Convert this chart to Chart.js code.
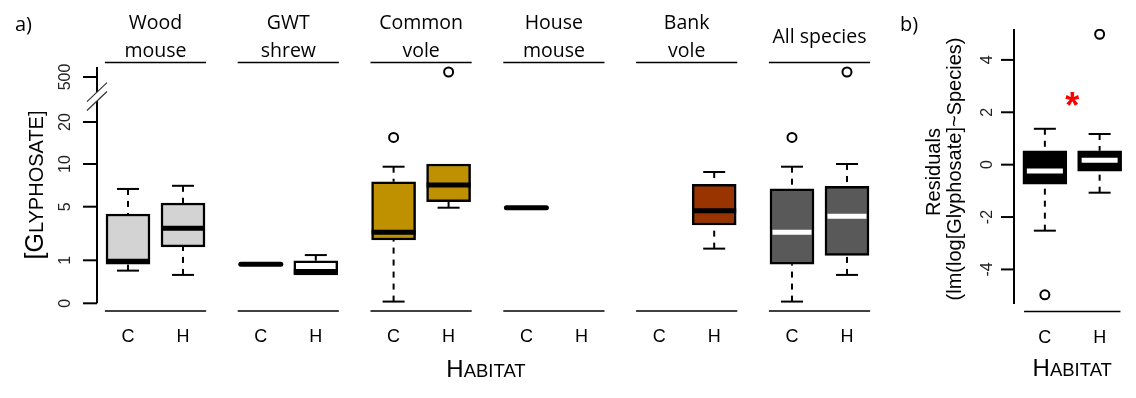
<!DOCTYPE html>
<html><head><meta charset="utf-8">
<script src="https://cdn.jsdelivr.net/npm/chart.js@4.4.1/dist/chart.umd.min.js"></script>
<style>
html,body{margin:0;padding:0;background:#fff;}
#wrap{position:relative;width:1136px;height:398px;overflow:hidden;background:#fff;}
canvas{position:absolute;top:0;}
#ca{left:0;} #cb{left:890px;}
</style></head><body>
<div id="wrap"><canvas id="ca" width="900" height="398"></canvas><canvas id="cb" width="246" height="398"></canvas></div>
<script>
// ---------------- data: panel a ----------------
const species = ['Wood\nmouse','GWT\nshrew','Common\nvole','House\nmouse','Bank\nvole','All species'];
const habitats = ['C','H'];
// per species: [C, H]; null = no data
const lowWhisker    = [[0.76,0.66],[0.91,0.66],[0.04,4.85],[4.85,null],[null,1.42],[0.04,0.66]];
const lowerQuartile = [[0.91,1.50],[0.91,0.66],[1.84,5.42],[4.85,null],[null,2.89],[0.91,1.16]];
const medianValue   = [[0.98,2.61],[0.91,0.74],[2.32,7.11],[4.85,null],[null,4.43],[2.32,3.75]];
const upperQuartile = [[4.02,5.31],[0.91,0.99],[7.50,10.0],[4.85,null],[null,7.20],[6.67,6.96]];
const highWhisker   = [[6.67,7.02],[0.91,1.17],[9.57,10.0],[4.85,null],[null,8.78],[9.57,10.0]];
const outlierValues = [[[],[]],[[],[]],[[15.5],[550]],[[],[]],[[],[]],[[15.5],[550]]];
const yTicksA = [0,1,5,10,20,500];
const axisBreakA = [90,170];
const boxFill = ['#d3d3d3','#ffffff','#bf9000','#ffffff','#993300','#595959'];
const medianColor = ['#000000','#000000','#000000','#000000','#000000','#ffffff'];

// ---------------- data: panel b ----------------
const residHabitats = ['C','H'];
const residLow = [-2.52,-1.07];
const residQ1 = [-0.74,-0.25];
const residMedian = [-0.24,0.17];
const residQ3 = [0.53,0.53];
const residHigh = [1.37,1.17];
const residOutliers = [[-4.97],[4.98]];
const yTicksB = [-4,-2,0,2,4];
const significance = {label:'*', between:[0,1], y:2.5};

// ---------------- broken / stretched axis transform (panel a) ----------------
const anchorV = [0,1,5,10,20,500,600];
const anchorU = [0,1,2.2465,3.2395,4.2163,5.2628,5.4953];
function U(v){
  if (v <= 1) return v;
  for (let i = 1; i < anchorV.length - 1; i++) {
    if (v <= anchorV[i+1] || i === anchorV.length - 2) {
      let t;
      if (i >= 5) t = (v - anchorV[i]) / (anchorV[i+1] - anchorV[i]);
      else t = Math.log(v / anchorV[i]) / Math.log(anchorV[i+1] / anchorV[i]);
      return anchorU[i] + t * (anchorU[i+1] - anchorU[i]);
    }
  }
}

const FACET_STEP = 2.4145;
const xPos = (i, j) => i * FACET_STEP + j;
const BOX_PX = 44;

const SANS = '"Liberation Sans", Arial, sans-serif';
const TITLE = '"Open Sans", "Noto Sans", sans-serif';

function rotText(ctx, parts, cx, cy) {
  ctx.save();
  ctx.translate(cx, cy);
  ctx.rotate(-Math.PI / 2);
  let total = 0;
  parts.forEach(p => { ctx.font = p[1]; total += ctx.measureText(p[0]).width; });
  let pos = -total / 2;
  ctx.textAlign = 'left'; ctx.textBaseline = 'alphabetic';
  parts.forEach(p => { ctx.font = p[1]; ctx.fillText(p[0], pos, 0); pos += ctx.measureText(p[0]).width; });
  ctx.restore();
}
function mixedText(ctx, parts, cx, baseY) {
  let total = 0;
  parts.forEach(p => { ctx.font = p[1]; total += ctx.measureText(p[0]).width; });
  let pos = cx - total / 2;
  ctx.textAlign = 'left'; ctx.textBaseline = 'alphabetic';
  parts.forEach(p => { ctx.font = p[1]; ctx.fillText(p[0], pos, baseY); pos += ctx.measureText(p[0]).width; });
}
function drawWhiskers(ctx, px, y, w, q, tf) {
  if (w == null || w === q) return;
  const pw = y.getPixelForValue(tf(w)), pq = y.getPixelForValue(tf(q));
  ctx.setLineDash([6, 6]);
  ctx.beginPath(); ctx.moveTo(px, pw); ctx.lineTo(px, pq); ctx.stroke();
  ctx.setLineDash([]);
  ctx.beginPath(); ctx.moveTo(px - BOX_PX / 4, pw); ctx.lineTo(px + BOX_PX / 4, pw); ctx.stroke();
}

// ---------------- panel a ----------------
const boxDataA = [], boxColA = [], outDataA = [];
species.forEach((s, i) => habitats.forEach((h, j) => {
  if (lowerQuartile[i][j] == null) return;
  boxDataA.push({x: xPos(i, j), y: [U(lowerQuartile[i][j]), U(upperQuartile[i][j])]});
  boxColA.push(boxFill[i]);
  outlierValues[i][j].forEach(v => outDataA.push({x: xPos(i, j), y: U(v)}));
}));

const panelA = {
  id: 'panelA',
  beforeDatasetsDraw(chart) {
    const {ctx, scales: {x, y}} = chart;
    ctx.save(); ctx.strokeStyle = '#000'; ctx.lineWidth = 2;
    species.forEach((s, i) => habitats.forEach((h, j) => {
      if (lowerQuartile[i][j] == null) return;
      const px = x.getPixelForValue(xPos(i, j));
      drawWhiskers(ctx, px, y, lowWhisker[i][j], lowerQuartile[i][j], U);
      drawWhiskers(ctx, px, y, highWhisker[i][j], upperQuartile[i][j], U);
    }));
    ctx.restore();
  },
  afterDatasetsDraw(chart) {
    const {ctx, scales: {x, y}} = chart;
    ctx.save();
    species.forEach((s, i) => habitats.forEach((h, j) => {
      if (medianValue[i][j] == null) return;
      const px = x.getPixelForValue(xPos(i, j));
      const py = y.getPixelForValue(U(medianValue[i][j]));
      const collapsed = lowerQuartile[i][j] === upperQuartile[i][j];
      ctx.strokeStyle = medianColor[i]; ctx.lineWidth = 5;
      ctx.lineCap = collapsed ? 'round' : 'butt';
      const half = collapsed ? BOX_PX / 2 - 2 : (medianColor[i] === '#ffffff' ? BOX_PX / 2 - 2.5 : BOX_PX / 2);
      ctx.beginPath(); ctx.moveTo(px - half, py); ctx.lineTo(px + half, py); ctx.stroke();
    }));
    ctx.restore();
  },
  afterDraw(chart) {
    const {ctx, chartArea: ca, scales: {x, y}} = chart;
    ctx.save();
    ctx.fillStyle = '#000'; ctx.strokeStyle = '#000';
    ctx.font = '20px ' + TITLE; ctx.textAlign = 'left'; ctx.textBaseline = 'alphabetic';
    ctx.fillText('a)', 15, 31);
    species.forEach((s, i) => {
      const cx = x.getPixelForValue(xPos(i, 0.5));
      const lines = s.split('\n');
      ctx.font = '19.5px ' + TITLE; ctx.textAlign = 'center';
      if (lines.length === 2) { ctx.fillText(lines[0], cx, 28.5); ctx.fillText(lines[1], cx, 56.5); }
      else ctx.fillText(lines[0], cx, 42.5);
      const l = x.getPixelForValue(xPos(i, 0.5) - 0.92), r = x.getPixelForValue(xPos(i, 0.5) + 0.92);
      ctx.lineWidth = 1.3;
      ctx.beginPath(); ctx.moveTo(l, ca.top + 0.5); ctx.lineTo(r, ca.top + 0.5); ctx.stroke();
      ctx.beginPath(); ctx.moveTo(l, ca.bottom); ctx.lineTo(r, ca.bottom); ctx.stroke();
      ctx.font = '18px ' + SANS;
      habitats.forEach((h, j) => ctx.fillText(h, x.getPixelForValue(xPos(i, j)), 342));
    });
    mixedText(ctx, [['H', '24px ' + SANS], ['ABITAT', '18.5px ' + SANS]], 486, 377);
    const ax = ca.left;
    const yTop = y.getPixelForValue(anchorU[anchorU.length - 1]);
    const yBot = y.getPixelForValue(U(0));
    const bHi = y.getPixelForValue(U(axisBreakA[1]));
    const bLo = y.getPixelForValue(U(axisBreakA[0]));
    ctx.lineWidth = 2; ctx.lineCap = 'butt';
    ctx.beginPath(); ctx.moveTo(ax, yTop); ctx.lineTo(ax, bHi); ctx.stroke();
    ctx.beginPath(); ctx.moveTo(ax, bLo); ctx.lineTo(ax, yBot); ctx.stroke();
    ctx.lineWidth = 1.2; ctx.strokeStyle = '#333';
    [bHi, bLo].forEach(py => { ctx.beginPath(); ctx.moveTo(ax - 10, py + 9.5); ctx.lineTo(ax + 10, py - 9.5); ctx.stroke(); });
    ctx.strokeStyle = '#000'; ctx.lineWidth = 2;
    yTicksA.forEach(t => {
      const py = y.getPixelForValue(U(t));
      ctx.beginPath(); ctx.moveTo(ax - 14, py); ctx.lineTo(ax, py); ctx.stroke();
      ctx.fillStyle = '#222';
      rotText(ctx, [[String(t), '16px ' + SANS]], 70, py);
    });
    ctx.fillStyle = '#000';
    rotText(ctx, [['[G', '25px ' + SANS], ['LYPHOSATE]', '20px ' + SANS]], 43, 185);
    ctx.restore();
  }
};

new Chart(document.getElementById('ca'), {
  type: 'bar',
  data: {
    datasets: [
      {type: 'bar', data: boxDataA, backgroundColor: boxColA, borderColor: '#000', borderWidth: 2.5,
       borderSkipped: false, barThickness: BOX_PX, order: 2},
      {type: 'scatter', data: outDataA, pointRadius: 4.5, pointBorderWidth: 2, pointBackgroundColor: '#fff',
       pointBorderColor: '#000', showLine: false, order: 1}
    ]
  },
  options: {
    responsive: false, animation: false, devicePixelRatio: 1,
    layout: {padding: {left: 97, right: 20, top: 62, bottom: 87}},
    plugins: {legend: {display: false}, tooltip: {enabled: false}},
    scales: {
      x: {type: 'linear', display: false, offset: false, min: -31 / 55, max: 752 / 55},
      y: {type: 'linear', display: false, min: -0.179, max: 5.6116}
    }
  },
  plugins: [panelA]
});

// ---------------- panel b ----------------
const boxDataB = residHabitats.map((h, j) => ({x: j, y: [residQ1[j], residQ3[j]]}));
const outDataB = [];
residHabitats.forEach((h, j) => residOutliers[j].forEach(v => outDataB.push({x: j, y: v})));
const ident = v => v;

const panelB = {
  id: 'panelB',
  beforeDatasetsDraw(chart) {
    const {ctx, scales: {x, y}} = chart;
    ctx.save(); ctx.strokeStyle = '#000'; ctx.lineWidth = 2;
    residHabitats.forEach((h, j) => {
      const px = x.getPixelForValue(j);
      drawWhiskers(ctx, px, y, residLow[j], residQ1[j], ident);
      drawWhiskers(ctx, px, y, residHigh[j], residQ3[j], ident);
    });
    ctx.restore();
  },
  afterDatasetsDraw(chart) {
    const {ctx, scales: {x, y}} = chart;
    ctx.save(); ctx.strokeStyle = '#fff'; ctx.lineWidth = 5;
    residHabitats.forEach((h, j) => {
      const px = x.getPixelForValue(j), py = y.getPixelForValue(residMedian[j]);
      ctx.beginPath(); ctx.moveTo(px - BOX_PX / 2 + 4, py); ctx.lineTo(px + BOX_PX / 2 - 4, py); ctx.stroke();
    });
    ctx.restore();
  },
  afterDraw(chart) {
    const {ctx, chartArea: ca, scales: {x, y}} = chart;
    ctx.save(); ctx.fillStyle = '#000'; ctx.strokeStyle = '#000';
    ctx.font = '20px ' + TITLE; ctx.textAlign = 'left'; ctx.textBaseline = 'alphabetic';
    ctx.fillText('b)', 10, 31);
    ctx.lineWidth = 2;
    ctx.beginPath(); ctx.moveTo(ca.left, ca.top); ctx.lineTo(ca.left, ca.bottom); ctx.stroke();
    yTicksB.forEach(t => {
      const py = y.getPixelForValue(t);
      ctx.beginPath(); ctx.moveTo(ca.left - 13, py); ctx.lineTo(ca.left, py); ctx.stroke();
      ctx.fillStyle = '#222';
      rotText(ctx, [[String(t), '16px ' + SANS]], 102, py);
    });
    ctx.fillStyle = '#000';
    rotText(ctx, [['Residuals', '20px ' + SANS]], 50, 172);
    rotText(ctx, [['(lm(log[Glyphosate]~Species)', '20px ' + SANS]], 71, 169);
    ctx.lineWidth = 1.3;
    const l = x.getPixelForValue(0.5 - 0.88), r = x.getPixelForValue(0.5 + 0.88);
    ctx.beginPath(); ctx.moveTo(l, 311.5); ctx.lineTo(r, 311.5); ctx.stroke();
    ctx.font = '18px ' + SANS; ctx.textAlign = 'center';
    residHabitats.forEach((h, j) => ctx.fillText(h, x.getPixelForValue(j), 343));
    mixedText(ctx, [['H', '24px ' + SANS], ['ABITAT', '18.5px ' + SANS]], x.getPixelForValue(0.5), 376);
    ctx.fillStyle = '#ff0000'; ctx.font = 'bold 36px ' + SANS; ctx.textAlign = 'center'; ctx.textBaseline = 'alphabetic';
    const m = ctx.measureText(significance.label);
    const cx = x.getPixelForValue((significance.between[0] + significance.between[1]) / 2);
    const cy = y.getPixelForValue(significance.y);
    ctx.fillText(significance.label, cx, cy + (m.actualBoundingBoxAscent - m.actualBoundingBoxDescent) / 2);
    ctx.restore();
  }
};

new Chart(document.getElementById('cb'), {
  type: 'bar',
  data: {
    datasets: [
      {type: 'bar', data: boxDataB, backgroundColor: '#000', borderColor: '#000', borderWidth: 2.5,
       borderSkipped: false, barThickness: BOX_PX, order: 2},
      {type: 'scatter', data: outDataB, pointRadius: 4.5, pointBorderWidth: 2, pointBackgroundColor: '#fff',
       pointBorderColor: '#000', showLine: false, order: 1}
    ]
  },
  options: {
    responsive: false, animation: false, devicePixelRatio: 1,
    layout: {padding: {left: 124, right: 6, top: 29, bottom: 94}},
    plugins: {legend: {display: false}, tooltip: {enabled: false}},
    scales: {
      x: {type: 'linear', display: false, offset: false, min: -31 / 55, max: 85 / 55},
      y: {type: 'linear', display: false, min: -5.32, max: 5.18}
    }
  },
  plugins: [panelB]
});
</script>
</body></html>
